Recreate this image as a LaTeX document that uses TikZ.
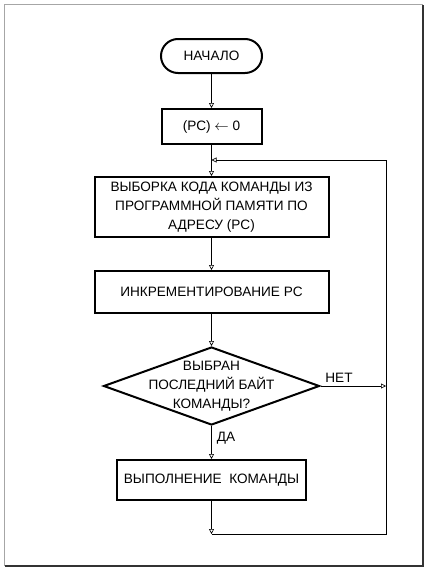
\documentclass[tikz,border=0pt]{standalone}
\usepackage{fontspec}
\setmainfont{Liberation Sans}
\usetikzlibrary{arrows.meta,shapes.geometric}
\begin{document}
\begin{tikzpicture}[x=1pt,y=-1pt,
  font=\fontsize{13.6}{19.2}\selectfont,
  box/.style={draw,line width=2pt,align=center,inner sep=0pt},
  conn/.style={line width=0.7pt},
  tip/.style={-{Triangle[open,length=5pt,width=5pt,line width=0.6pt]}},
  lbl/.style={inner sep=0pt}]
\useasboundingbox (0,0) rectangle (428,570);
% frame
\draw[gray!70,line width=1.2pt] (4.5,566) -- (4.5,4.5) -- (423,4.5);
\draw[black!80,line width=1.2pt] (4.5,566) -- (423,566) -- (423,4.5);
% nodes
\node[box,rounded corners=17pt,minimum width=101pt,minimum height=34pt] (start) at (211.5,56) {НАЧАЛО};
\node[box,minimum width=100pt,minimum height=35pt] (pc) at (211.5,126.5) {(PC) $\leftarrow$ 0};
\node[box,minimum width=234pt,minimum height=60pt] (fetch) at (211.5,207) {ВЫБОРКА КОДА КОМАНДЫ ИЗ\\ПРОГРАММНОЙ ПАМЯТИ ПО\\АДРЕСУ (PC)};
\node[box,minimum width=234pt,minimum height=42pt] (inc) at (211.5,292) {ИНКРЕМЕНТИРОВАНИЕ PC};
\node[diamond,draw,line width=2pt,inner sep=0pt,minimum width=216pt,minimum height=78pt,aspect=2.77] (dec) at (211.5,386) {};
\node[align=center,inner sep=0pt] (dectext) at (211.5,386) {ВЫБРАН\\ПОСЛЕДНИЙ БАЙТ\\КОМАНДЫ?};
\node[box,minimum width=189pt,minimum height=40pt] (exec) at (211.5,480) {ВЫПОЛНЕНИЕ\ \ КОМАНДЫ};
% coordinates
\coordinate (j) at (211.5,160);
\coordinate (rt) at (386,160);
\coordinate (rm) at (386,386);
\coordinate (rb) at (386,534);
\coordinate (bb) at (211.5,534);
% connectors
\draw[conn,tip] (start) -- (pc);
\draw[conn,tip] (pc) -- (fetch);
\draw[conn,tip] (fetch) -- (inc);
\draw[conn,tip] (inc) -- (dec);
\draw[conn,tip] (dec.east) -- (rm);
\draw[conn,tip] (dec) -- (exec);
\draw[conn,tip] (exec) -- (bb);
\draw[conn,tip] (bb) -- (rb) -- (rt) -- (j);
% labels
\node[lbl] (net) at (339,378) {НЕТ};
\node[lbl] (da) at (226,438) {ДА};
\end{tikzpicture}
\end{document}
